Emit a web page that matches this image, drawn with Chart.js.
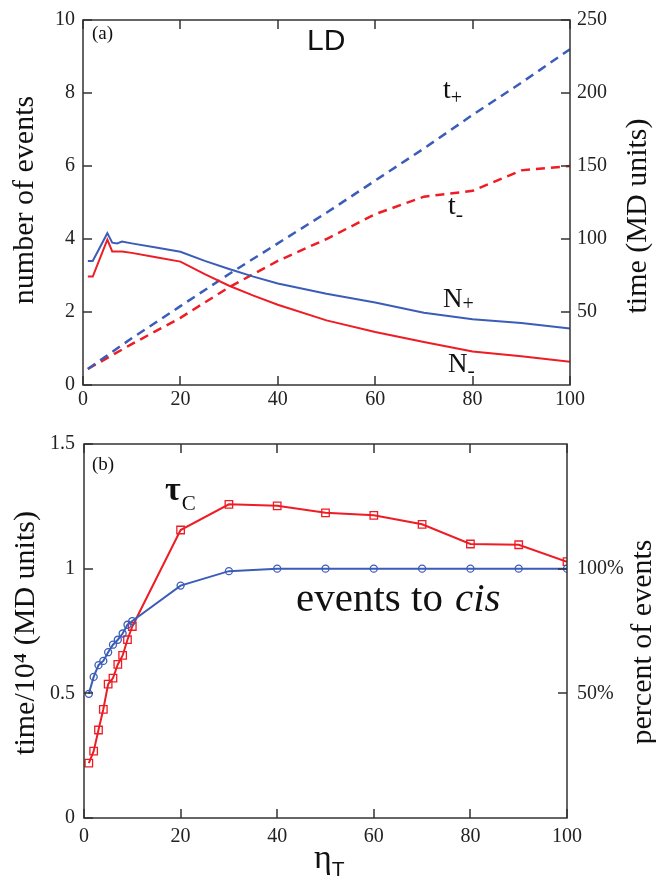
<!DOCTYPE html>
<html>
<head>
<meta charset="utf-8">
<script src="https://cdn.jsdelivr.net/npm/chart.js@4"></script>
<style>
  body { margin: 0; background: #fff; }
  #wrap { position: relative; width: 656px; height: 882px; }
  canvas { position: absolute; left: 0; }
  #chartA { top: 0; }
  #chartB { top: 420px; }
</style>
</head>
<body>
<div id="wrap">
  <canvas id="chartA" width="656" height="420"></canvas>
  <canvas id="chartB" width="656" height="462"></canvas>
</div>
<script>
// panel (a): number of events and times vs eta_T
const etaN = [1, 2, 5, 6, 7, 8, 10, 15, 20, 25, 30, 35, 40, 50, 60, 70, 80, 90, 100]
const nPlus = [3.40, 3.40, 4.16, 3.90, 3.88, 3.93, 3.88, 3.77, 3.65, 3.40, 3.18, 2.97, 2.78, 2.50, 2.26, 1.98, 1.80, 1.70, 1.55]
const nMinus = [2.97, 2.97, 3.98, 3.66, 3.66, 3.66, 3.62, 3.50, 3.38, 3.04, 2.72, 2.45, 2.20, 1.77, 1.45, 1.18, 0.92, 0.79, 0.64]

const etaT = [1, 10, 20, 30, 40, 50, 60, 70, 80, 90, 100]
const tPlus = [11, 32, 54, 76, 97, 118, 140, 162, 185, 207, 230]
const tMinus = [11, 28, 46, 67, 85, 100, 117, 129, 133, 147, 150]

// panel (b): tau_C and percent of events to cis
const etaB = [1, 2, 3, 4, 5, 6, 7, 8, 9, 10, 20, 30, 40, 50, 60, 70, 80, 90, 100]
const tauC = [0.22, 0.268, 0.353, 0.436, 0.537, 0.561, 0.616, 0.652, 0.715, 0.768, 1.155, 1.258, 1.252, 1.224, 1.214, 1.178, 1.099, 1.096, 1.028]
const cisPct = [49.8, 56.6, 61.3, 63.0, 66.5, 69.5, 71.5, 74.0, 77.5, 79.0, 93.2, 99.0, 100, 100, 100, 100, 100, 100, 100]

const xTicks = [0, 20, 40, 60, 80, 100]
const timeTicks = [50, 100, 150, 200, 250]
const pctTicks = [50, 100]

const red = "#ee1c24"
const blue = "#3b5cb8"
const serif = "Liberation Serif"

const toXY = (xs, ys) => xs.map((x, i) => ({x: x, y: ys[i]}))

function drawText(ctx, t) {
    ctx.font = t.font
    ctx.fillStyle = "#111"
    ctx.textAlign = "left"
    ctx.textBaseline = "alphabetic"
    ctx.fillText(t.text, t.x, t.y)
    if (t.sub) {
        const w = ctx.measureText(t.text).width
        ctx.font = t.subFont
        ctx.fillText(t.sub, t.x + w + (t.subDx || 0), t.y + t.subDy)
    }
}

function drawVertical(ctx, v) {
    ctx.save()
    ctx.translate(v.x, v.y)
    ctx.rotate(-Math.PI / 2)
    ctx.font = v.font
    ctx.fillStyle = "#111"
    ctx.textAlign = "center"
    ctx.textBaseline = "alphabetic"
    ctx.fillText(v.text, 0, 0)
    ctx.restore()
}

const framePlugin = {
    id: "frame",
    afterDraw(chart, args, opts) {
        const ctx = chart.ctx
        const a = chart.chartArea
        const sc = chart.scales
        ctx.save()
        ctx.strokeStyle = "#333"
        ctx.lineWidth = 1.5
        ctx.strokeRect(a.left, a.top, a.right - a.left, a.bottom - a.top)
        const len = 9
        ctx.beginPath()
        sc.x.ticks.forEach(t => {
            const p = Math.round(sc.x.getPixelForValue(t.value))
            ctx.moveTo(p, a.bottom); ctx.lineTo(p, a.bottom - len)
            ctx.moveTo(p, a.top); ctx.lineTo(p, a.top + len)
        })
        sc.y.ticks.forEach(t => {
            const p = Math.round(sc.y.getPixelForValue(t.value))
            ctx.moveTo(a.left, p); ctx.lineTo(a.left + len, p)
        })
        sc.y2.ticks.forEach(t => {
            const p = Math.round(sc.y2.getPixelForValue(t.value))
            ctx.moveTo(a.right, p); ctx.lineTo(a.right - len, p)
        })
        ctx.stroke()
        ;(opts.texts || []).forEach(t => drawText(ctx, t))
        ;(opts.vertical || []).forEach(v => drawVertical(ctx, v))
        ctx.restore()
    }
}

const tickFont = {family: serif, size: 20}

function xScale(height, pad) {
    return {
        type: "linear", min: 0, max: 100,
        afterBuildTicks: s => { s.ticks = xTicks.map(v => ({value: v})) },
        ticks: {font: tickFont, color: "#222", padding: pad, maxRotation: 0},
        grid: {display: false, drawTicks: false},
        border: {display: false},
        afterFit: s => { s.height = height }
    }
}

new Chart(document.getElementById("chartA"), {
    type: "line",
    data: {
        datasets: [
            {data: toXY(etaN, nPlus), borderColor: blue, borderWidth: 2, pointRadius: 0, yAxisID: "y"},
            {data: toXY(etaN, nMinus), borderColor: red, borderWidth: 2, pointRadius: 0, yAxisID: "y"},
            {data: toXY(etaT, tPlus), borderColor: blue, borderWidth: 2.5, borderDash: [9, 6], pointRadius: 0, yAxisID: "y2"},
            {data: toXY(etaT, tMinus), borderColor: red, borderWidth: 2.5, borderDash: [9, 6], pointRadius: 0, yAxisID: "y2"}
        ]
    },
    options: {
        responsive: false,
        animation: false,
        layout: {padding: {top: 12, left: 0, right: 0, bottom: 0}},
        plugins: {
            legend: {display: false},
            tooltip: {enabled: false},
            frame: {
                texts: [
                    {text: "(a)", x: 92, y: 39, font: "19px " + serif},
                    {text: "LD", x: 307, y: 50, font: "30px Liberation Sans"},
                    {text: "t", x: 443, y: 98, font: "28px " + serif, sub: "+", subFont: "20px " + serif, subDy: 6},
                    {text: "t", x: 448, y: 214, font: "28px " + serif, sub: "-", subFont: "22px " + serif, subDy: 7},
                    {text: "N", x: 443, y: 307, font: "27px " + serif, sub: "+", subFont: "20px " + serif, subDy: 3},
                    {text: "N", x: 448, y: 372, font: "27px " + serif, sub: "-", subFont: "22px " + serif, subDy: 5}
                ],
                vertical: [
                    {text: "number of events", x: 33, y: 200, font: "30px " + serif},
                    {text: "time (MD units)", x: 646, y: 216, font: "30px " + serif}
                ]
            }
        },
        scales: {
            x: xScale(35, 3),
            y: {
                position: "left", min: 0, max: 10,
                ticks: {stepSize: 2, font: tickFont, color: "#222", padding: 8},
                grid: {display: false, drawTicks: false},
                border: {display: false},
                afterFit: s => { s.width = 83 }
            },
            y2: {
                position: "right", min: 0, max: 250,
                afterBuildTicks: s => { s.ticks = timeTicks.map(v => ({value: v})) },
                ticks: {font: tickFont, color: "#222", padding: 7},
                grid: {display: false, drawTicks: false},
                border: {display: false},
                afterFit: s => { s.width = 86 }
            }
        }
    },
    plugins: [framePlugin]
})

new Chart(document.getElementById("chartB"), {
    type: "line",
    data: {
        datasets: [
            {data: toXY(etaB, cisPct), borderColor: blue, borderWidth: 2, yAxisID: "y2",
             pointStyle: "circle", pointRadius: 3.5, pointBorderWidth: 1.3, pointBorderColor: blue, pointBackgroundColor: "rgba(255,255,255,0)"},
            {data: toXY(etaB, tauC), borderColor: red, borderWidth: 2, yAxisID: "y",
             pointStyle: "rect", pointRadius: 5.3, pointBorderWidth: 1.3, pointBorderColor: red, pointBackgroundColor: "rgba(255,255,255,0)"}
        ]
    },
    options: {
        responsive: false,
        animation: false,
        layout: {padding: {top: 24, left: 0, right: 0, bottom: 0}},
        plugins: {
            legend: {display: false},
            tooltip: {enabled: false},
            frame: {
                texts: [
                    {text: "(b)", x: 92, y: 50, font: "19px " + serif},
                    {text: "τ", x: 165, y: 80, font: "bold 34px " + serif, sub: "C", subFont: "21px " + serif, subDx: 1, subDy: 10},
                    {text: "events to ", x: 296, y: 191, font: "41px " + serif},
                    {text: "cis", x: 455, y: 191, font: "italic 41px " + serif},
                    {text: "η", x: 314, y: 448, font: "34px " + serif, sub: "T", subFont: "21px Liberation Sans", subDx: 0, subDy: 8}
                ],
                vertical: [
                    {text: "time/10⁴ (MD units)", x: 34, y: 213, font: "30px " + serif},
                    {text: "percent of events", x: 651, y: 222, font: "30px " + serif}
                ]
            }
        },
        scales: {
            x: xScale(64, 7),
            y: {
                position: "left", min: 0, max: 1.5,
                ticks: {stepSize: 0.5, font: tickFont, color: "#222", padding: 9, callback: v => String(v)},
                grid: {display: false, drawTicks: false},
                border: {display: false},
                afterFit: s => { s.width = 84 }
            },
            y2: {
                position: "right", min: 0, max: 150,
                afterBuildTicks: s => { s.ticks = pctTicks.map(v => ({value: v})) },
                ticks: {font: tickFont, color: "#222", padding: 10, callback: v => v + "%"},
                grid: {display: false, drawTicks: false},
                border: {display: false},
                afterFit: s => { s.width = 89 }
            }
        }
    },
    plugins: [framePlugin]
})
</script>
</body>
</html>
